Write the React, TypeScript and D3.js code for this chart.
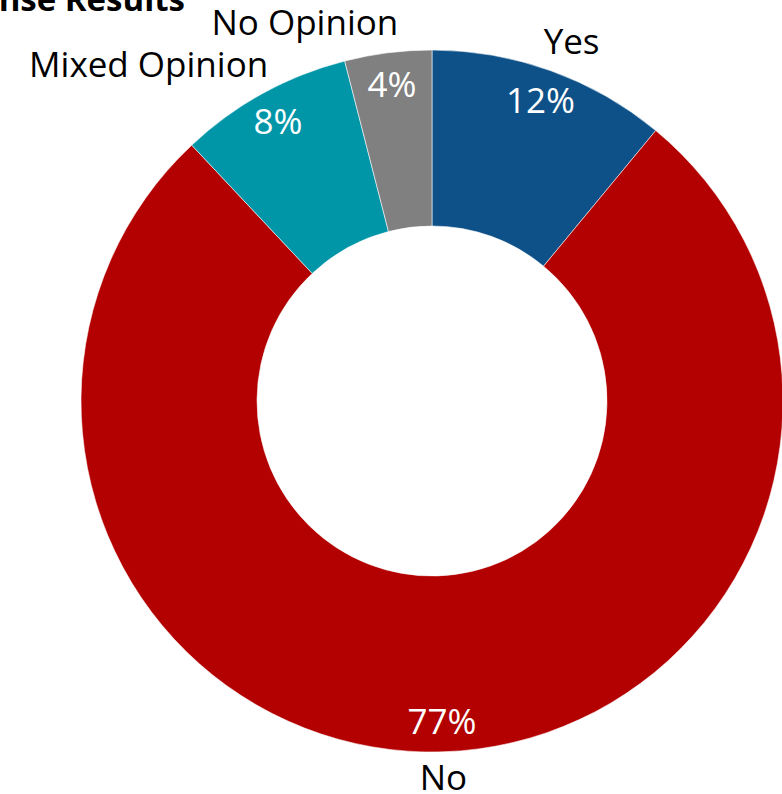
import React from "react";
import * as d3 from "d3";

const categories = ["Yes", "No", "Mixed Opinion", "No Opinion"];
const values = [11, 77, 8, 4];
const percentLabels = ["12%", "77%", "8%", "4%"];
const colors = ["#0E5188", "#B30000", "#0096A8", "#808080"];
const title = "Survey Response Results";

const W = 782;
const H = 794;
const cx = 432;
const cy = 401;
const outerR = 351;
const innerR = 175;
const pctR = 320;
const catR = 365;
const FONT = "'Open Sans', 'Noto Sans', sans-serif";

export default function App() {
  const pie = d3
    .pie<number>()
    .sort(null)
    .value((d) => d)
    .startAngle(0)
    .endAngle(2 * Math.PI);
  const arcs = pie(values);
  const arcGen = d3
    .arc<d3.PieArcDatum<number>>()
    .innerRadius(innerR)
    .outerRadius(outerR);

  return (
    <svg
      width={W}
      height={H}
      style={{ position: "absolute", left: 0, top: 0, background: "#fff" }}
    >
      <text
        x={185}
        y={11}
        textAnchor="end"
        fontFamily={FONT}
        fontWeight="bold"
        fontSize={33}
        fill="#000"
      >
        {title}
      </text>
      <g transform={`translate(${cx},${cy})`}>
        {arcs.map((a, i) => (
          <path
            key={categories[i]}
            d={arcGen(a) || ""}
            fill={colors[i]}
            stroke="#fff"
            strokeOpacity={0.7}
            strokeWidth={0.8}
          />
        ))}
        {arcs.map((a, i) => {
          const mid = (a.startAngle + a.endAngle) / 2;
          const x = pctR * Math.sin(mid);
          const y = -pctR * Math.cos(mid);
          return (
            <text
              key={"p" + i}
              x={x}
              y={y}
              dy="0.38em"
              textAnchor="middle"
              fontFamily={FONT}
              fontSize={35}
              fill="#fff"
            >
              {percentLabels[i]}
            </text>
          );
        })}
        {arcs.map((a, i) => {
          const mid = (a.startAngle + a.endAngle) / 2;
          const s = Math.sin(mid);
          const c = Math.cos(mid);
          const side = Math.abs(s) < 0.1 ? 0 : Math.sign(s);
          const x = catR * s - side * 12;
          const y = -catR * c;
          const anchor = side === 0 ? "middle" : side > 0 ? "start" : "end";
          const baseline = c > 0 ? y - 4 : y + 24;
          return (
            <text
              key={"c" + i}
              x={x}
              y={baseline}
              textAnchor={anchor}
              fontFamily={FONT}
              fontSize={35}
              fill="#000"
            >
              {categories[i]}
            </text>
          );
        })}
      </g>
    </svg>
  );
}
